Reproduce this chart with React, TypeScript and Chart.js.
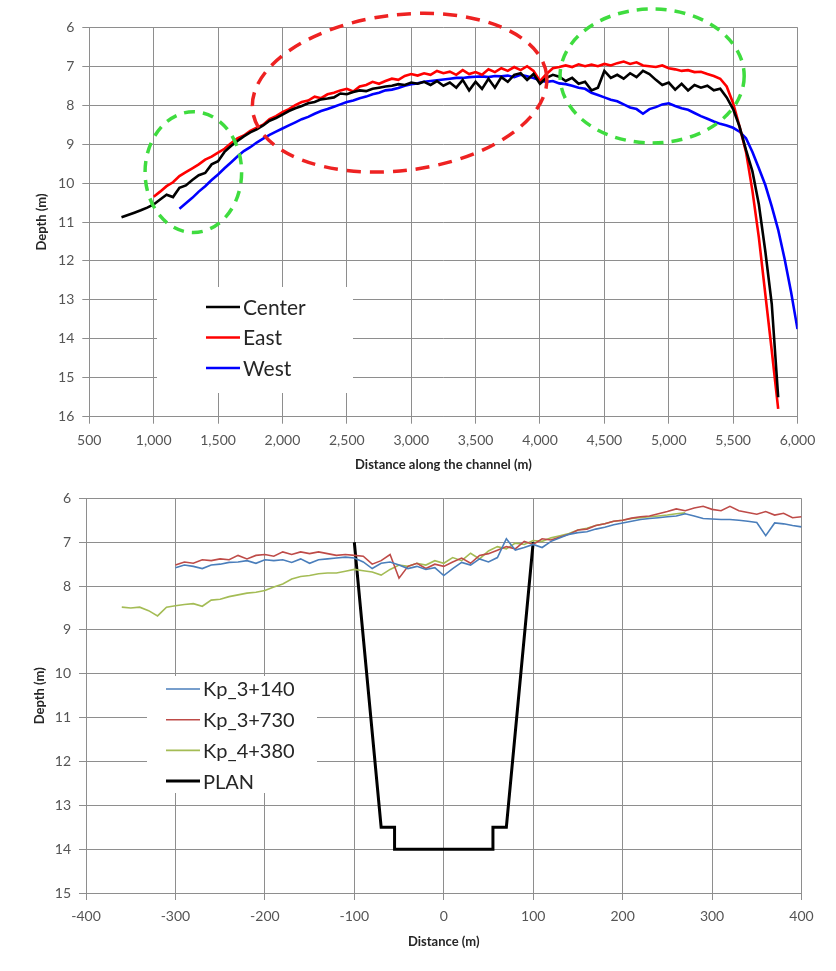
import React, { useEffect, useRef } from 'react';
import { Chart, registerables } from 'chart.js';

Chart.register(...registerables);

// ---------------- Top chart data (distance along channel, m) ----------------
const channelDistance = [
  750, 800, 850, 900, 950, 1000, 1050, 1100, 1150, 1200, 1250, 1300, 1350, 1400, 1450,
  1500, 1550, 1600, 1650, 1700, 1750, 1800, 1850, 1900, 1950, 2000, 2050, 2100, 2150, 2200,
  2250, 2300, 2350, 2400, 2450, 2500, 2550, 2600, 2650, 2700, 2750, 2800, 2850, 2900, 2950,
  3000, 3050, 3100, 3150, 3200, 3250, 3300, 3350, 3400, 3450, 3500, 3550, 3600, 3650, 3700,
  3750, 3800, 3850, 3900, 3950, 4000, 4050, 4100, 4150, 4200, 4250, 4300, 4350, 4400, 4450,
  4500, 4550, 4600, 4650, 4700, 4750, 4800, 4850, 4900, 4950, 5000, 5050, 5100, 5150, 5200,
  5250, 5300, 5350, 5400, 5450, 5500, 5550, 5600, 5650, 5700, 5750, 5800, 5850, 5900, 5950,
  6000,
];

const centerDepth = [
  10.88, 10.82, 10.76, 10.70, 10.63,
  10.55, 10.42, 10.30, 10.36, 10.12, 10.06, 9.92, 9.80, 9.74, 9.52,
  9.44, 9.20, 9.05, 8.92, 8.80, 8.70, 8.62, 8.52, 8.40, 8.33,
  8.24, 8.15, 8.08, 8.02, 7.95, 7.92, 7.85, 7.83, 7.80, 7.70,
  7.72, 7.66, 7.62, 7.64, 7.58, 7.55, 7.52, 7.50, 7.46, 7.48,
  7.42, 7.45, 7.40, 7.48, 7.38, 7.50, 7.42, 7.55, 7.35, 7.62,
  7.40, 7.58, 7.32, 7.55, 7.28, 7.40, 7.22, 7.18, 7.35, 7.20,
  7.45, 7.30, 7.22, 7.27, 7.38, 7.30, 7.45, 7.40, 7.62, 7.55,
  7.12, 7.30, 7.22, 7.32, 7.18, 7.28, 7.12, 7.20, 7.35, 7.48,
  7.42, 7.60, 7.45, 7.62, 7.48, 7.55, 7.50, 7.62, 7.58, 7.80,
  8.10, 8.55, 9.15, 9.70, 10.55, 11.75, 13.10, 15.50,
  null, null, null,
];

const eastDepth = [
  null, null, null, null, null,
  10.35, 10.22, 10.08, 9.98, 9.82, 9.72, 9.62, 9.52, 9.40, 9.32,
  9.22, 9.12, 8.98, 8.85, 8.78, 8.66, 8.58, 8.50, 8.36, 8.28,
  8.18, 8.10, 8.00, 7.92, 7.88, 7.78, 7.82, 7.72, 7.68, 7.62,
  7.58, 7.65, 7.52, 7.48, 7.40, 7.45, 7.38, 7.32, 7.35, 7.25,
  7.20, 7.24, 7.18, 7.22, 7.12, 7.18, 7.14, 7.22, 7.10, 7.20,
  7.15, 7.22, 7.08, 7.15, 7.05, 7.12, 7.02, 7.10, 7.00, 7.12,
  7.38, 7.20, 7.05, 7.02, 6.98, 7.02, 6.95, 7.00, 6.96, 7.00,
  6.94, 6.98, 6.92, 6.88, 6.94, 6.90, 6.98, 7.00, 7.02, 6.98,
  7.05, 7.08, 7.12, 7.10, 7.15, 7.14, 7.20, 7.25, 7.32, 7.52,
  7.95, 8.55, 9.20, 10.20, 11.40, 12.85, 14.30, 15.80,
  null, null, null,
];

const westDepth = [
  null, null, null, null, null,
  null, null, null, null, 10.66, 10.52, 10.38, 10.22, 10.08, 9.92,
  9.78, 9.62, 9.47, 9.32, 9.18, 9.08, 8.96, 8.86, 8.76, 8.68,
  8.60, 8.52, 8.44, 8.36, 8.30, 8.22, 8.15, 8.10, 8.04, 7.98,
  7.92, 7.88, 7.82, 7.78, 7.72, 7.68, 7.62, 7.60, 7.56, 7.50,
  7.46, 7.44, 7.40, 7.38, 7.36, 7.34, 7.32, 7.30, 7.30, 7.28,
  7.27, 7.26, 7.28, 7.25, 7.26, 7.24, 7.28, 7.22, 7.26, 7.30,
  7.36, 7.40, 7.38, 7.44, 7.46, 7.50, 7.55, 7.58, 7.68, 7.74,
  7.80, 7.86, 7.90, 7.98, 8.06, 8.10, 8.22, 8.10, 8.05, 7.98,
  7.95, 8.02, 8.08, 8.12, 8.20, 8.28, 8.35, 8.42, 8.48, 8.52,
  8.58, 8.68, 8.85, 9.20, 9.62, 10.05, 10.60, 11.20, 11.95, 12.80,
  13.75,
];

const topXTicks = [500, 6000, 500]; // min, max, step
const topYTicks = [6, 16, 1];

// Highlight ellipses on the top chart (data units: distance m, depth m)
const highlightCenterX = [1308, 2910, 4871];
const highlightCenterY = [9.72, 7.68, 7.25];
const highlightRadiusX = [375, 1150, 715];
const highlightRadiusY = [1.55, 2.0, 1.72];
const highlightRotationDeg = [0, -7, 0];
const highlightColors = ['#3fdc3f', '#ee2222', '#3fdc3f'];

// ---------------- Bottom chart data (cross-section distance, m) ----------------
const sectionDistance = [
  -360, -350, -340, -330, -320, -310, -300, -290, -280, -270, -260, -250, -240, -230, -220,
  -210, -200, -190, -180, -170, -160, -150, -140, -130, -120, -110, -100, -90, -80, -70,
  -60, -50, -40, -30, -20, -10, 0, 10, 20, 30, 40, 50, 60, 70, 80,
  90, 100, 110, 120, 130, 140, 150, 160, 170, 180, 190, 200, 210, 220, 230,
  240, 250, 260, 270, 280, 290, 300, 310, 320, 330, 340, 350, 360, 370, 380,
  390, 400,
];

const kp3140Depth = [
  null, null, null, null, null, null,
  7.58, 7.52, 7.55, 7.60, 7.52, 7.50, 7.46, 7.45, 7.42, 7.48,
  7.40, 7.42, 7.40, 7.46, 7.38, 7.48, 7.40, 7.38, 7.36, 7.34,
  7.36, 7.45, 7.60, 7.48, 7.45, 7.52, 7.60, 7.55, 7.62, 7.58,
  7.76, 7.60, 7.46, 7.52, 7.38, 7.45, 7.35, 6.92, 7.18, 7.12,
  7.05, 7.12, 6.98, 6.90, 6.82, 6.78, 6.76, 6.70, 6.66, 6.60,
  6.56, 6.52, 6.48, 6.46, 6.44, 6.42, 6.40, 6.35, 6.40, 6.46,
  6.47, 6.48, 6.48, 6.50, 6.52, 6.55, 6.85, 6.56, 6.58, 6.62,
  6.65,
];

const kp3730Depth = [
  null, null, null, null, null, null,
  7.52, 7.45, 7.48, 7.40, 7.42, 7.38, 7.40, 7.30, 7.38, 7.30,
  7.28, 7.32, 7.22, 7.28, 7.22, 7.26, 7.22, 7.26, 7.30, 7.28,
  7.30, 7.32, 7.50, 7.42, 7.28, 7.82, 7.55, 7.48, 7.60, 7.50,
  7.55, 7.45, 7.36, 7.48, 7.30, 7.26, 7.18, 7.10, 7.15, 6.98,
  7.05, 6.92, 6.95, 6.88, 6.82, 6.72, 6.70, 6.62, 6.58, 6.52,
  6.50, 6.45, 6.42, 6.40, 6.35, 6.30, 6.24, 6.28, 6.22, 6.18,
  6.25, 6.28, 6.18, 6.28, 6.32, 6.36, 6.30, 6.38, 6.34, 6.44,
  6.42,
];

const kp4380Depth = [
  8.48, 8.50, 8.48, 8.56, 8.68, 8.48, 8.45, 8.42, 8.40, 8.46,
  8.32, 8.30, 8.24, 8.20, 8.16, 8.14, 8.10, 8.02, 7.95, 7.84,
  7.78, 7.76, 7.72, 7.70, 7.70, 7.66, 7.62, 7.65, 7.68, 7.75,
  7.62, 7.52, 7.55, 7.48, 7.52, 7.42, 7.48, 7.35, 7.42, 7.25,
  7.38, 7.20, 7.10, 7.15, 7.02, 7.05, 6.96, 6.98, 6.90, 6.85,
  6.80, 6.72, 6.68, 6.62, 6.58, 6.52, 6.50, 6.46, 6.44, 6.42,
  6.40, 6.38, 6.35, 6.33,
  null, null, null, null, null, null, null, null, null, null, null, null, null,
];

const planDistance = [-100, -70, -55, -55, 55, 55, 70, 100];
const planDepth = [7, 13.5, 13.5, 14, 14, 13.5, 13.5, 7];

const bottomXTicks = [-400, 400, 100];
const bottomYTicks = [6, 15, 1];

// ---------------- helpers ----------------
const FONT = 'Lato, "Open Sans", "Liberation Sans", sans-serif';
const GRID = '#8e8e8e';
const TICK_TEXT = '#555555';

function toPoints(xs: number[], ys: (number | null)[]) {
  return xs.map((x, i) => ({ x, y: ys[i] }));
}

const boxLegendPlugin = {
  id: 'boxLegend',
  afterDatasetsDraw(chart: any, _args: any, opts: any) {
    if (!opts || !opts.box) return;
    const ctx = chart.ctx;
    ctx.save();
    ctx.fillStyle = '#ffffff';
    ctx.fillRect(opts.box.x, opts.box.y, opts.box.w, opts.box.h);
    ctx.font = `${opts.fontSize}px ${FONT}`;
    ctx.textBaseline = 'middle';
    ctx.textAlign = 'left';
    chart.data.datasets.forEach((ds: any, i: number) => {
      const y = opts.y + i * opts.spacing;
      ctx.strokeStyle = ds.borderColor;
      ctx.lineWidth = ds.borderWidth;
      ctx.setLineDash([]);
      ctx.beginPath();
      ctx.moveTo(opts.lineX0, y);
      ctx.lineTo(opts.lineX1, y);
      ctx.stroke();
      ctx.fillStyle = '#262626';
      ctx.fillText(ds.label, opts.textX, y + 1);
    });
    ctx.restore();
  },
};

const ellipsePlugin = {
  id: 'highlightEllipses',
  afterDatasetsDraw(chart: any, _args: any, opts: any) {
    if (!opts || !opts.enabled) return;
    const ctx = chart.ctx;
    const xs = chart.scales.x;
    const ys = chart.scales.y;
    ctx.save();
    highlightCenterX.forEach((cxv, i) => {
      const cx = xs.getPixelForValue(cxv);
      const cy = ys.getPixelForValue(highlightCenterY[i]);
      const rx = Math.abs(xs.getPixelForValue(cxv + highlightRadiusX[i]) - cx);
      const ry = Math.abs(ys.getPixelForValue(highlightCenterY[i] + highlightRadiusY[i]) - cy);
      ctx.strokeStyle = highlightColors[i];
      ctx.lineWidth = 3.5;
      ctx.setLineDash(i === 1 ? [14, 9] : [11, 8]);
      ctx.beginPath();
      ctx.ellipse(cx, cy, rx, ry, (highlightRotationDeg[i] * Math.PI) / 180, 0, Math.PI * 2);
      ctx.stroke();
    });
    ctx.restore();
  },
};

function axisCommon(min: number, max: number, step: number, fmt?: (v: number) => string) {
  return {
    type: 'linear' as const,
    min,
    max,
    grid: { color: GRID, lineWidth: 1, tickLength: 7, drawTicks: true },
    border: { display: true, color: GRID, width: 1 },
    ticks: {
      stepSize: step,
      autoSkip: false,
      maxRotation: 0,
      color: TICK_TEXT,
      font: { family: FONT, size: 14 },
      padding: 8,
      callback: fmt ? (v: any) => fmt(Number(v)) : undefined,
    },
  };
}

function TopChart() {
  const ref = useRef<HTMLCanvasElement>(null);
  useEffect(() => {
    let chart: Chart | null = null;
    let dead = false;
    const make = () => {
      if (dead || !ref.current) return;
      chart = new Chart(ref.current, {
        type: 'line',
        data: {
          datasets: [
            { label: 'Center', data: toPoints(channelDistance, centerDepth), borderColor: '#000000', borderWidth: 2.6 },
            { label: 'East', data: toPoints(channelDistance, eastDepth), borderColor: '#ff0000', borderWidth: 2.6 },
            { label: 'West', data: toPoints(channelDistance, westDepth), borderColor: '#0000ff', borderWidth: 2.6 },
          ] as any,
        },
        options: {
          animation: false,
          responsive: false,
          parsing: true,
          elements: { point: { radius: 0 }, line: { tension: 0 } },
          layout: { padding: { left: 0, right: 38.5, top: 27.3, bottom: 0 } },
          scales: {
            x: {
              ...axisCommon(topXTicks[0], topXTicks[1], topXTicks[2], (v) => v.toLocaleString('en-US')),
              title: {
                display: true,
                text: 'Distance along the channel (m)',
                color: '#262626',
                font: { family: FONT, size: 13, weight: 'bold' },
                padding: { top: 0, bottom: 9 },
              },
              afterFit: (s: any) => { s.height = 65.3; },
            } as any,
            y: {
              ...axisCommon(topYTicks[0], topYTicks[1], topYTicks[2]),
              reverse: true,
              title: {
                display: true,
                text: 'Depth (m)',
                color: '#262626',
                font: { family: FONT, size: 13, weight: 'bold' },
                padding: { top: 34, bottom: 0 },
              },
              afterFit: (s: any) => { s.width = 89.3; },
            } as any,
          },
          plugins: {
            legend: { display: false },
            tooltip: { enabled: false },
            boxLegend: {
              box: { x: 157, y: 287, w: 196, h: 106 },
              fontSize: 21,
              y: 307,
              spacing: 30.5,
              lineX0: 206,
              lineX1: 240,
              textX: 243,
            },
            highlightEllipses: { enabled: true },
          } as any,
        },
        plugins: [boxLegendPlugin, ellipsePlugin],
      });
    };
    const fontsReady = (document as any).fonts
      ? Promise.all([
          (document as any).fonts.load(`14px Lato`),
          (document as any).fonts.load(`bold 13px Lato`),
        ]).catch(() => null)
      : Promise.resolve(null);
    fontsReady.then(make);
    return () => {
      dead = true;
      if (chart) chart.destroy();
    };
  }, []);
  return (
    <canvas
      ref={ref}
      width={836}
      height={482}
      style={{ position: 'absolute', left: 0, top: 0, width: 836, height: 482 }}
    />
  );
}

function BottomChart() {
  const ref = useRef<HTMLCanvasElement>(null);
  useEffect(() => {
    let chart: Chart | null = null;
    let dead = false;
    const make = () => {
      if (dead || !ref.current) return;
      chart = new Chart(ref.current, {
        type: 'line',
        data: {
          datasets: [
            { label: 'Kp_3+140', data: toPoints(sectionDistance, kp3140Depth), borderColor: '#4a7ebb', borderWidth: 1.6 },
            { label: 'Kp_3+730', data: toPoints(sectionDistance, kp3730Depth), borderColor: '#be4b48', borderWidth: 1.6 },
            { label: 'Kp_4+380', data: toPoints(sectionDistance, kp4380Depth), borderColor: '#a4bc55', borderWidth: 1.6 },
            { label: 'PLAN', data: toPoints(planDistance, planDepth), borderColor: '#000000', borderWidth: 3 },
          ] as any,
        },
        options: {
          animation: false,
          responsive: false,
          elements: { point: { radius: 0 }, line: { tension: 0 } },
          layout: { padding: { left: 0, right: 34.5, top: 14.7, bottom: 0 } },
          scales: {
            x: {
              ...axisCommon(bottomXTicks[0], bottomXTicks[1], bottomXTicks[2]),
              title: {
                display: true,
                text: 'Distance (m)',
                color: '#262626',
                font: { family: FONT, size: 13, weight: 'bold' },
                padding: { top: 0, bottom: 21.5 },
              },
              afterFit: (s: any) => { s.height = 78; },
            } as any,
            y: {
              ...axisCommon(bottomYTicks[0], bottomYTicks[1], bottomYTicks[2]),
              reverse: true,
              title: {
                display: true,
                text: 'Depth (m)',
                color: '#262626',
                font: { family: FONT, size: 13, weight: 'bold' },
                padding: { top: 32, bottom: 0 },
              },
              afterFit: (s: any) => { s.width = 86; },
            } as any,
          },
          plugins: {
            legend: { display: false },
            tooltip: { enabled: false },
            boxLegend: {
              box: { x: 147, y: 194, w: 170, h: 117 },
              fontSize: 20,
              y: 207,
              spacing: 30.7,
              lineX0: 166,
              lineX1: 200,
              textX: 203,
            },
            highlightEllipses: { enabled: false },
          } as any,
        },
        plugins: [boxLegendPlugin],
      });
    };
    const fontsReady = (document as any).fonts
      ? Promise.all([
          (document as any).fonts.load(`14px Lato`),
          (document as any).fonts.load(`bold 13px Lato`),
        ]).catch(() => null)
      : Promise.resolve(null);
    fontsReady.then(make);
    return () => {
      dead = true;
      if (chart) chart.destroy();
    };
  }, []);
  return (
    <canvas
      ref={ref}
      width={836}
      height={489}
      style={{ position: 'absolute', left: 0, top: 482, width: 836, height: 489 }}
    />
  );
}

export default function App() {
  return (
    <div style={{ position: 'absolute', left: 0, top: 0, width: 836, height: 971, background: '#ffffff' }}>
      <TopChart />
      <BottomChart />
    </div>
  );
}
